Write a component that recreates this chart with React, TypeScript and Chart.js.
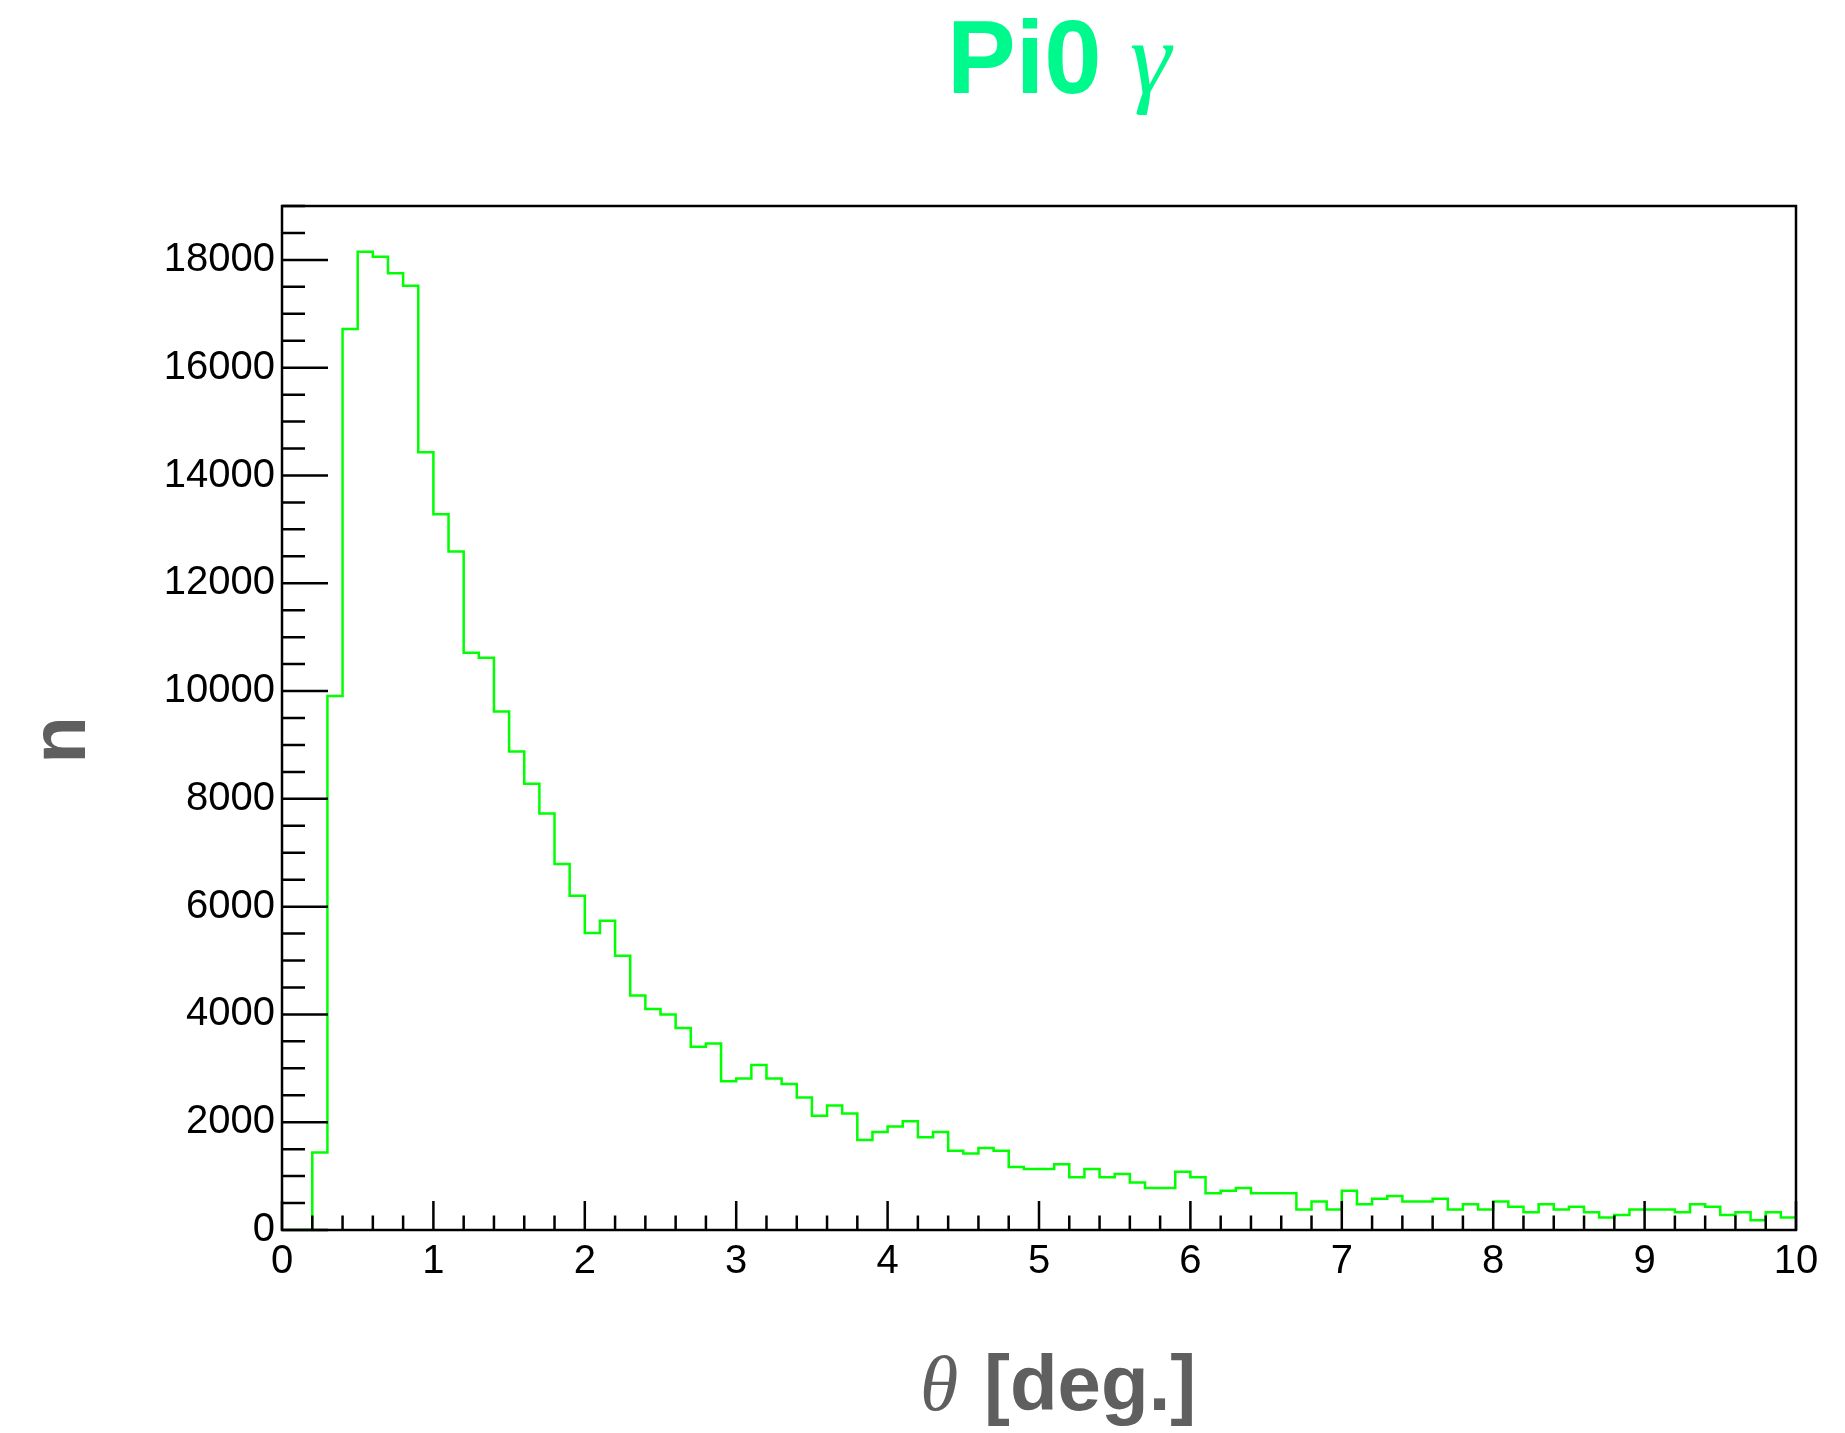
import React, { useEffect, useRef } from 'react';
import { Chart, registerables } from 'chart.js';

Chart.register(...registerables);

// Histogram binning: 100 bins of width 0.1 deg from 0 to 10
const binStart = 0;
const binWidth = 0.1;

// Entries per bin
const counts = [
  0, 0, 1440, 9910, 16720, 18150, 18060, 17750, 17520, 14430,
  13280, 12590, 10710, 10620, 9620, 8880, 8280, 7730, 6790, 6200,
  5510, 5740, 5090, 4350, 4100, 4000, 3750, 3400, 3460, 2760,
  2810, 3060, 2810, 2710, 2460, 2120, 2310, 2160, 1670, 1820,
  1920, 2020, 1720, 1820, 1470, 1420, 1520, 1470, 1170, 1130,
  1130, 1220, 980, 1130, 980, 1040, 880, 780, 780, 1080,
  980, 680, 730, 780, 680, 680, 680, 380, 530, 380,
  730, 480, 580, 630, 530, 530, 580, 380, 480, 380,
  530, 430, 330, 480, 380, 430, 330, 230, 280, 380,
  380, 380, 330, 480, 430, 280, 330, 180, 330, 230,
];

const xMajorTicks = [0, 1, 2, 3, 4, 5, 6, 7, 8, 9, 10];
const yMajorTicks = [0, 2000, 4000, 6000, 8000, 10000, 12000, 14000, 16000, 18000];
const xMinorStep = 0.2;
const yMinorStep = 500;

const xRange = [0, 10];
const yRange = [0, 19000];

const titleMain = 'Pi0';
const titleGreek = 'γ';
const xTitleGreek = 'θ';
const xTitleRest = '[deg.]';
const yTitle = 'n';

const W = 1845;
const H = 1433;

const rootStyle = {
  id: 'rootStyle',
  afterDatasetsDraw(chart: any) {
    const { ctx, chartArea: a, scales } = chart;
    const x = scales.x;
    const y = scales.y;
    ctx.save();
    ctx.strokeStyle = '#000';
    ctx.lineWidth = 2.5;
    ctx.beginPath();
    const nx = Math.round((xRange[1] - xRange[0]) / xMinorStep);
    for (let i = 0; i <= nx; i++) {
      const v = xRange[0] + i * xMinorStep;
      const major = xMajorTicks.some((m) => Math.abs(m - v) < 1e-6);
      const px = x.getPixelForValue(v);
      ctx.moveTo(px, a.bottom);
      ctx.lineTo(px, a.bottom - (major ? 29 : 14.5));
    }
    const ny = Math.round((yRange[1] - yRange[0]) / yMinorStep);
    for (let i = 0; i <= ny; i++) {
      const v = yRange[0] + i * yMinorStep;
      const major = yMajorTicks.includes(v);
      const py = y.getPixelForValue(v);
      ctx.moveTo(a.left, py);
      ctx.lineTo(a.left + (major ? 46 : 23), py);
    }
    ctx.stroke();
    ctx.strokeRect(a.left, a.top, a.right - a.left, a.bottom - a.top);
    ctx.restore();
  },
  afterDraw(chart: any) {
    const { ctx } = chart;
    ctx.save();
    // Title
    ctx.fillStyle = '#00F98D';
    ctx.textAlign = 'left';
    ctx.textBaseline = 'alphabetic';
    ctx.font = 'bold 103px "Liberation Sans", Arial, sans-serif';
    ctx.fillText(titleMain, 947, 93);
    ctx.font = 'italic 104px "Liberation Serif", "Times New Roman", serif';
    ctx.fillText(titleGreek, 1130, 93);

    // X axis title
    ctx.fillStyle = '#5f5f5f';
    ctx.font = 'italic 78px "Liberation Serif", "Times New Roman", serif';
    ctx.fillText(xTitleGreek, 920, 1410);
    ctx.font = 'bold 78px "Liberation Sans", Arial, sans-serif';
    ctx.fillText(xTitleRest, 984, 1410);

    // Y axis title
    ctx.translate(85, 740);
    ctx.rotate(-Math.PI / 2);
    ctx.textAlign = 'center';
    ctx.font = 'bold 78px "Liberation Sans", Arial, sans-serif';
    ctx.fillText(yTitle, 0, 0);
    ctx.restore();
  },
};

export default function App() {
  const ref = useRef<HTMLCanvasElement | null>(null);

  useEffect(() => {
    if (!ref.current) return;
    const points = counts.map((c, i) => ({ x: binStart + i * binWidth, y: c }));
    points.push({ x: binStart + counts.length * binWidth, y: counts[counts.length - 1] });

    const tickFont = { family: '"Liberation Sans", Arial, sans-serif', size: 40 };

    const chart = new Chart(ref.current, {
      type: 'line',
      data: {
        datasets: [
          {
            data: points,
            borderColor: '#00FF00',
            borderWidth: 2.5,
            stepped: 'before',
            fill: false,
            pointRadius: 0,
            tension: 0,
          },
        ],
      },
      options: {
        responsive: false,
        maintainAspectRatio: false,
        devicePixelRatio: 1,
        animation: false,
        layout: { padding: { top: 206, right: 49, bottom: 0, left: 0 } },
        plugins: {
          legend: { display: false },
          tooltip: { enabled: false },
          title: { display: false },
        },
        scales: {
          x: {
            type: 'linear',
            min: xRange[0],
            max: xRange[1],
            grid: { display: false, drawTicks: false },
            border: { display: false },
            ticks: {
              font: tickFont,
              color: '#000',
              padding: 8,
              maxRotation: 0,
              includeBounds: false,
              callback: (v: any) => String(v),
            },
            afterBuildTicks: (scale: any) => {
              scale.ticks = xMajorTicks.map((v) => ({ value: v }));
            },
            afterFit: (scale: any) => {
              scale.height = H - 1230;
            },
          },
          y: {
            type: 'linear',
            min: yRange[0],
            max: yRange[1],
            grid: { display: false, drawTicks: false },
            border: { display: false },
            ticks: {
              font: tickFont,
              color: '#000',
              padding: 7,
              includeBounds: false,
              callback: (v: any) => String(v),
            },
            afterBuildTicks: (scale: any) => {
              scale.ticks = yMajorTicks.map((v) => ({ value: v }));
            },
            afterFit: (scale: any) => {
              scale.width = 282;
            },
          },
        },
      },
      plugins: [rootStyle],
    } as any);

    return () => chart.destroy();
  }, []);

  return (
    <div style={{ position: 'absolute', left: 0, top: 0, width: W, height: H, background: '#fff' }}>
      <canvas ref={ref} width={W} height={H} style={{ display: 'block', width: W, height: H }} />
    </div>
  );
}
